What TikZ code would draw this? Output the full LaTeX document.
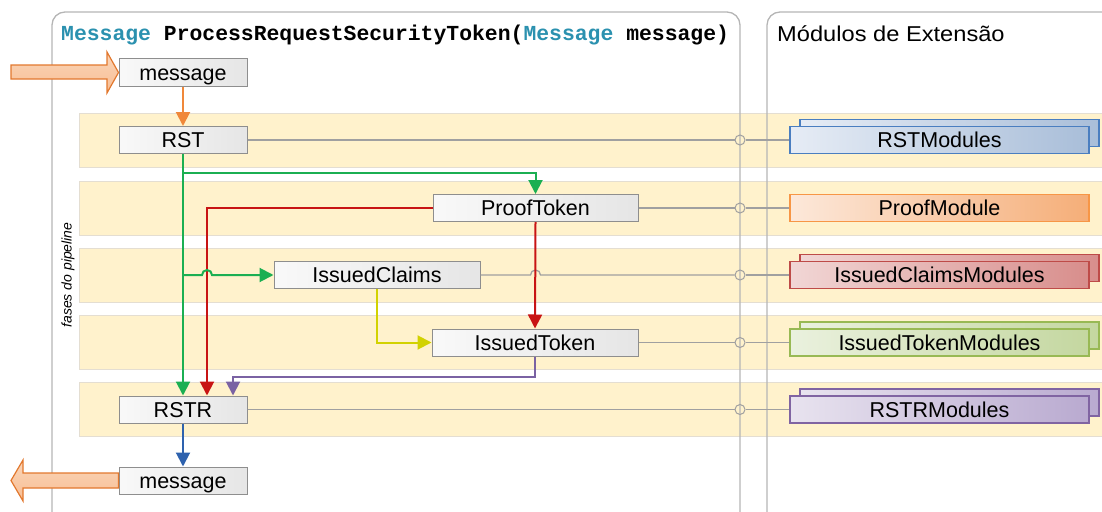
\documentclass[tikz,border=0pt]{standalone}
\usepackage{fontspec}
\setmainfont{Liberation Sans}
\setmonofont{Liberation Mono}
\usetikzlibrary{arrows.meta,calc}

% palette
\definecolor{band}{HTML}{FFF2CC}
\definecolor{bandedge}{HTML}{E4DED2}
\definecolor{frame}{HTML}{B5B5B5}
\definecolor{wire}{HTML}{A0A0A0}
\definecolor{typeblue}{HTML}{2B91AF}
\definecolor{stageedge}{HTML}{8E8E8E}
\definecolor{flowOrange}{HTML}{F0883A}
\definecolor{flowGreen}{HTML}{1BAF52}
\definecolor{flowRed}{HTML}{C81414}
\definecolor{flowYellow}{HTML}{D2D200}
\definecolor{flowPurple}{HTML}{7A62A3}
\definecolor{flowBlue}{HTML}{2E62AE}
\definecolor{bigEdge}{HTML}{E2782E}
\definecolor{bigTop}{HTML}{FAD5B8}
\definecolor{bigBot}{HTML}{F8BE94}
% module colours: edge / light / dark
\definecolor{rstedge}{HTML}{4A7EC0}\definecolor{rstlight}{HTML}{E6ECF5}\definecolor{rstdark}{HTML}{A9BED9}
\definecolor{prfedge}{HTML}{F79646}\definecolor{prflight}{HTML}{FCE8DA}\definecolor{prfdark}{HTML}{F5AE78}
\definecolor{clmedge}{HTML}{BE4B48}\definecolor{clmlight}{HTML}{F1D6D5}\definecolor{clmdark}{HTML}{D88E8C}
\definecolor{tokedge}{HTML}{98B954}\definecolor{toklight}{HTML}{EAF1DE}\definecolor{tokdark}{HTML}{C4D7A0}
\definecolor{rsredge}{HTML}{8064A2}\definecolor{rsrlight}{HTML}{E8E3EF}\definecolor{rsrdark}{HTML}{B9AAD0}

\tikzset{
  lane/.style={fill=band, draw=bandedge, line width=1pt},
  panel/.style={draw=frame, line width=1.3pt, rounded corners=13pt},
  boxtext/.style={font=\fontsize{21.5}{21.5}\selectfont, text height=15.5pt, text depth=0pt,
    inner sep=0pt, minimum height=27},
  stage/.style={boxtext, draw=stageedge, line width=1pt, left color=gray!5, right color=gray!20},
  module/.style={boxtext, draw=#1edge, line width=1.2pt, left color=#1light, right color=#1dark,
    minimum width=299},
  port/.style={circle, draw=wire, line width=1pt, minimum size=10, inner sep=0pt},
  wireline/.style={draw=wire, line width=1.3pt},
  flow/.style={line width=2pt, -{Triangle[length=14pt,width=14pt]}},
  bigarrow/.style={draw=bigEdge, line width=1.2pt, top color=bigTop, bottom color=bigBot},
}

\begin{document}
\begin{tikzpicture}[x=1pt,y=-1pt]
\useasboundingbox (0,0) rectangle (1102,511);
\clip (0,0) rectangle (1102,511);

% pipeline lanes
\foreach \r in {140,208,275,342.5,409.5}
  \draw[lane] (79,\r-27) rectangle (1110,\r+27);

% panels
\draw[panel] (52,530) -- (52,12) -- (740,12) -- (740,530);
\draw[panel] (767,530) -- (767,12) -- (1120,12);

\node[anchor=base west, inner sep=0pt, font=\ttfamily\bfseries\fontsize{21.4}{22}\selectfont] (title) at (61,41)
  {\textcolor{typeblue}{Message} ProcessRequestSecurityToken(\textcolor{typeblue}{Message} message)};
\node[anchor=base west, inner sep=0pt, xscale=1.1, font=\fontsize{21.5}{22}\selectfont] (ext) at (777,41.5)
  {Módulos de Extensão};
\node[rotate=90, inner sep=0pt, font=\itshape\fontsize{14}{14}\selectfont] (lanes) at (68,275)
  {fases do pipeline};

% stages
\node[stage, minimum width=128] (msgin)  at (183,72.5) {message};
\node[stage, minimum width=128] (rst)    at (183,140) {RST};
\node[stage, minimum width=205] (proof)  at (535.5,208) {ProofToken};
\node[stage, minimum width=206] (claims) at (377,275) {IssuedClaims};
\node[stage, minimum width=206] (itoken) at (535,342.5) {IssuedToken};
\node[stage, minimum width=128] (rstr)   at (183,409.5) {RSTR};
\node[stage, minimum width=128] (msgout) at (183,480.5) {message};

% message in / out
\draw[bigarrow] (11,65) -- (107,65) -- (107,52) -- (msgin.west) -- (107,93) -- (107,79) -- (11,79) -- cycle;
\draw[bigarrow] (msgout.west) ++(0,-7.5) -- (23,473) -- (23,460) -- (11,480.5) -- (23,501) -- (23,488) -- ($(msgout.west)+(0,7.5)$) -- cycle;

% extension modules (stacked ones have a copy behind)
\node[module=rst] at (949.5,133) {};
\node[module=clm] at (949.5,268) {};
\node[module=tok] at (949.5,335.5) {};
\node[module=rsr] at (949.5,402.5) {};
\node[module=rst] (rstm) at (939.5,140) {RSTModules};
\node[module=prf] (prfm) at (939.5,208) {ProofModule};
\node[module=clm] (clmm) at (939.5,275) {IssuedClaimsModules};
\node[module=tok] (tokm) at (939.5,342.5) {IssuedTokenModules};
\node[module=rsr] (rsrm) at (939.5,409.5) {RSTRModules};

% ports on the panel boundary
\node[port] (p1) at (740,140) {};
\node[port] (p2) at (740,208) {};
\node[port] (p3) at (740,275) {};
\node[port] (p4) at (740,342.5) {};
\node[port] (p5) at (740,409.5) {};

\draw[wireline] (rst.east) -- (p1.west);    \draw[wireline] (p1.east) -- (rstm.west);
\draw[wireline] (proof.east) -- (p2.west);  \draw[wireline] (p2.east) -- (prfm.west);
\draw[wireline] (claims.east) -- (530.5,275) arc[start angle=180, end angle=0, radius=5pt] -- (p3.west);
\draw[wireline] (p3.east) -- (clmm.west);
\draw[wireline] (itoken.east) -- (p4.west); \draw[wireline] (p4.east) -- (tokm.west);
\draw[wireline] (rstr.east) -- (p5.west);   \draw[wireline] (p5.east) -- (rsrm.west);

% flow between stages
\coordinate (gsplit) at (183,173);
\coordinate (gclaims) at (183,275);
\draw[flow, flowOrange] (msgin.south) -- (rst.north);
\draw[flow, flowGreen] (rst.south) -- (rstr.north);
\draw[flow, flowGreen] (gsplit) -| (proof.north);
\draw[flow, flowRed] (proof.west) -| ($(rstr.north)+(24,0)$);
\draw[flow, flowGreen] (gclaims) -- (202,275) arc[start angle=180, end angle=0, radius=5pt] -- (claims.west);
\draw[flow, flowRed] (proof.south) -- (itoken.north);
\draw[flow, flowYellow] (claims.south) |- (itoken.west);
\draw[flow, flowPurple] (itoken.south) -- ++(0,20) -| ($(rstr.north)+(50,0)$);
\draw[flow, flowBlue] (rstr.south) -- (msgout.north);
\end{tikzpicture}
\end{document}
